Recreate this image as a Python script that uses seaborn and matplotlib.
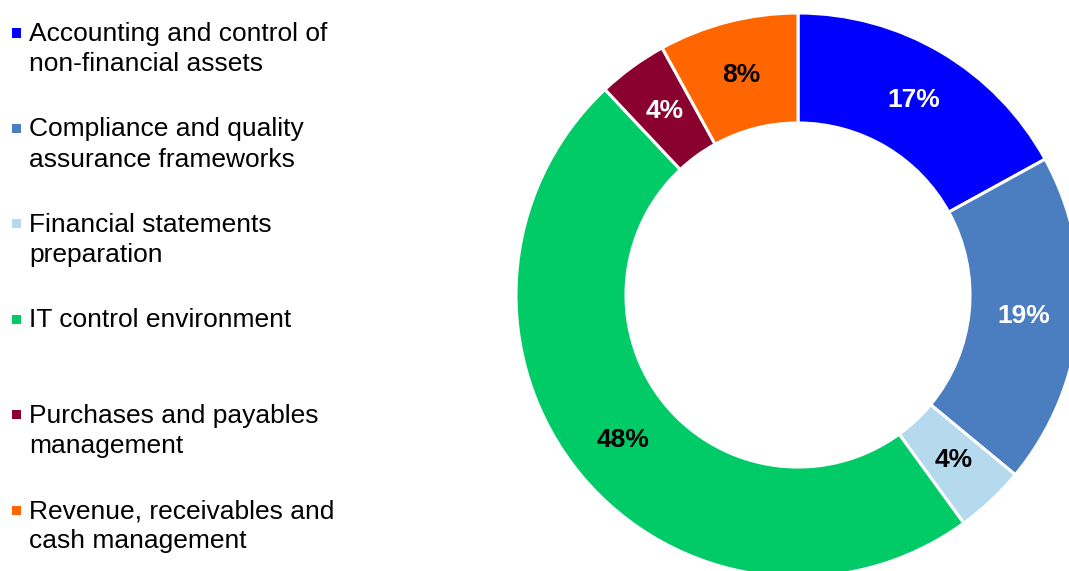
import matplotlib
matplotlib.use("Agg")
import matplotlib.pyplot as plt
import seaborn as sns

# Share of findings by audit area (percent)
categories = [
    "Accounting and control of\nnon-financial assets",
    "Compliance and quality\nassurance frameworks",
    "Financial statements\npreparation",
    "IT control environment",
    "Purchases and payables\nmanagement",
    "Revenue, receivables and\ncash management",
]
shares = [17, 19, 4, 48, 4, 8]
colors = ["#0000FF", "#4A7EC1", "#B5DAED", "#00CB67", "#8A002E", "#FF6600"]
label_colors = ["white", "white", "black", "black", "white", "black"]

sns.set_style("white")
plt.rcParams["font.family"] = ["Liberation Sans", "DejaVu Sans"]

W, H = 1069, 571
fig = plt.figure(figsize=(W / 100, H / 100), dpi=100)

# Donut: centre (798, 295) px from top-left, outer radius 282 px
cx, cy, R = 798, 295, 282
ax = fig.add_axes([(cx - R) / W, (H - cy - R) / H, 2 * R / W, 2 * R / H])

wedges, _, pct_texts = ax.pie(
    shares,
    colors=colors,
    startangle=90,
    counterclock=False,
    radius=1.0,
    autopct=lambda p: f"{p:.0f}%",
    pctdistance=0.805,
    wedgeprops=dict(width=0.39, edgecolor="white", linewidth=2.2),
    textprops=dict(fontsize=19, fontweight="bold"),
)
for t, c in zip(pct_texts, label_colors):
    t.set_color(c)
for w in wedges:
    w.set_clip_on(False)

ax.set_xlim(-1, 1)
ax.set_ylim(-1, 1)
ax.set_aspect("equal")
ax.axis("off")

# Category key on the left: one square marker and up to two text lines each
first_baseline = 41
step = 95.4
line_gap = 30.4
for i, (name, col) in enumerate(zip(categories, colors)):
    base = first_baseline + i * step
    fig.patches.append(
        plt.Rectangle(
            (12 / W, 1 - (base - 3.5) / H), 9 / W, 9 / H,
            transform=fig.transFigure, facecolor=col, edgecolor="none",
        )
    )
    for j, line in enumerate(name.split("\n")):
        fig.text(
            29 / W, 1 - (base + j * line_gap) / H, line,
            fontsize=19, color="black", ha="left", va="baseline",
        )

fig.savefig("out.png", dpi=100, facecolor="white")
